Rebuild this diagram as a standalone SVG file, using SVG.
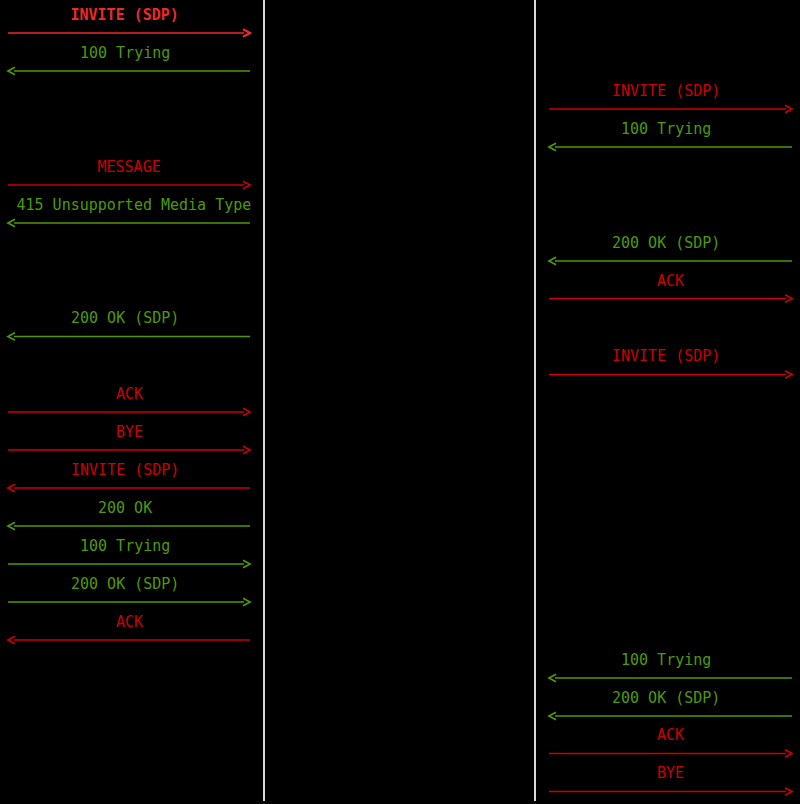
<svg xmlns="http://www.w3.org/2000/svg" width="800" height="804" viewBox="0 0 800 804">
<style>
text{font-family:"DejaVu Sans Mono","Liberation Mono",monospace;font-size:15px}
.r{fill:#cc0000}.g{fill:#4e9a06}.b{fill:#ef2929;font-weight:bold}
.lr{stroke:#cc0000;stroke-width:1.5}.lg{stroke:#4e9a06;stroke-width:1.5}.lb{stroke:#ef2929;stroke-width:1.6}
.v{stroke:#d8d8d8;stroke-width:2}
</style>
<defs>
<marker id="mr" viewBox="0 0 10 10" markerWidth="10" markerHeight="10" refX="2" refY="5" orient="auto" markerUnits="userSpaceOnUse"><path d="M1,1.3 L8,5 L1,8.7" fill="none" stroke="#cc0000" stroke-width="1.7"/></marker>
<marker id="mg" viewBox="0 0 10 10" markerWidth="10" markerHeight="10" refX="2" refY="5" orient="auto" markerUnits="userSpaceOnUse"><path d="M1,1.3 L8,5 L1,8.7" fill="none" stroke="#4e9a06" stroke-width="1.7"/></marker>
<marker id="mb" viewBox="0 0 10 10" markerWidth="10" markerHeight="10" refX="2" refY="5" orient="auto" markerUnits="userSpaceOnUse"><path d="M1,1.3 L8,5 L1,8.7" fill="none" stroke="#ef2929" stroke-width="2.1"/></marker>
</defs>
<rect width="800" height="804" fill="#000"/>
<g id="lifelines">
<line class="v" x1="264" y1="0" x2="264" y2="801"/>
<line class="v" x1="535" y1="0" x2="535" y2="801"/>
</g>
<g id="connectors">
<line class="lb" x1="8" y1="33" x2="244" y2="33" marker-end="url(#mb)"/>
<line class="lg" x1="250" y1="71" x2="14" y2="71" marker-end="url(#mg)"/>
<line class="lr" x1="549" y1="109" x2="786" y2="109" marker-end="url(#mr)"/>
<line class="lg" x1="792" y1="147" x2="555" y2="147" marker-end="url(#mg)"/>
<line class="lr" x1="8" y1="185" x2="244" y2="185" marker-end="url(#mr)"/>
<line class="lg" x1="250" y1="223" x2="14" y2="223" marker-end="url(#mg)"/>
<line class="lg" x1="792" y1="261" x2="555" y2="261" marker-end="url(#mg)"/>
<line class="lr" x1="549" y1="298.5" x2="786" y2="298.5" marker-end="url(#mr)"/>
<line class="lg" x1="250" y1="336.5" x2="14" y2="336.5" marker-end="url(#mg)"/>
<line class="lr" x1="549" y1="374.5" x2="786" y2="374.5" marker-end="url(#mr)"/>
<line class="lr" x1="8" y1="412" x2="244" y2="412" marker-end="url(#mr)"/>
<line class="lr" x1="8" y1="450" x2="244" y2="450" marker-end="url(#mr)"/>
<line class="lr" x1="250" y1="488" x2="14" y2="488" marker-end="url(#mr)"/>
<line class="lg" x1="250" y1="526" x2="14" y2="526" marker-end="url(#mg)"/>
<line class="lg" x1="8" y1="564" x2="244" y2="564" marker-end="url(#mg)"/>
<line class="lg" x1="8" y1="602" x2="244" y2="602" marker-end="url(#mg)"/>
<line class="lr" x1="250" y1="640" x2="14" y2="640" marker-end="url(#mr)"/>
<line class="lg" x1="792" y1="678" x2="555" y2="678" marker-end="url(#mg)"/>
<line class="lg" x1="792" y1="716" x2="555" y2="716" marker-end="url(#mg)"/>
<line class="lr" x1="549" y1="753.5" x2="786" y2="753.5" marker-end="url(#mr)"/>
<line class="lr" x1="549" y1="791.5" x2="786" y2="791.5" marker-end="url(#mr)"/>
</g>
<g id="m1"><text class="b" x="70.5" y="20">INVITE (SDP)</text></g>
<g id="m2"><text class="g" x="80" y="57.5">100 Trying</text></g>
<g id="m3"><text class="r" x="612" y="95.5">INVITE (SDP)</text></g>
<g id="m4"><text class="g" x="621" y="133.5">100 Trying</text></g>
<g id="m5"><text class="r" x="97.5" y="171.5">MESSAGE</text></g>
<g id="m6"><text class="g" x="16.5" y="209.5">415 Unsupported Media Type</text></g>
<g id="m7"><text class="g" x="612" y="247.5">200 OK (SDP)</text></g>
<g id="m8"><text class="r" x="657" y="285.5">ACK</text></g>
<g id="m9"><text class="g" x="71" y="323">200 OK (SDP)</text></g>
<g id="m10"><text class="r" x="612" y="361">INVITE (SDP)</text></g>
<g id="m11"><text class="r" x="116" y="399">ACK</text></g>
<g id="m12"><text class="r" x="116" y="437">BYE</text></g>
<g id="m13"><text class="r" x="71" y="474.5">INVITE (SDP)</text></g>
<g id="m14"><text class="g" x="98" y="512.5">200 OK</text></g>
<g id="m15"><text class="g" x="80" y="550.5">100 Trying</text></g>
<g id="m16"><text class="g" x="71" y="588.5">200 OK (SDP)</text></g>
<g id="m17"><text class="r" x="116" y="626.5">ACK</text></g>
<g id="m18"><text class="g" x="621" y="664.5">100 Trying</text></g>
<g id="m19"><text class="g" x="612" y="702.5">200 OK (SDP)</text></g>
<g id="m20"><text class="r" x="657" y="740">ACK</text></g>
<g id="m21"><text class="r" x="657" y="778">BYE</text></g>
</svg>
